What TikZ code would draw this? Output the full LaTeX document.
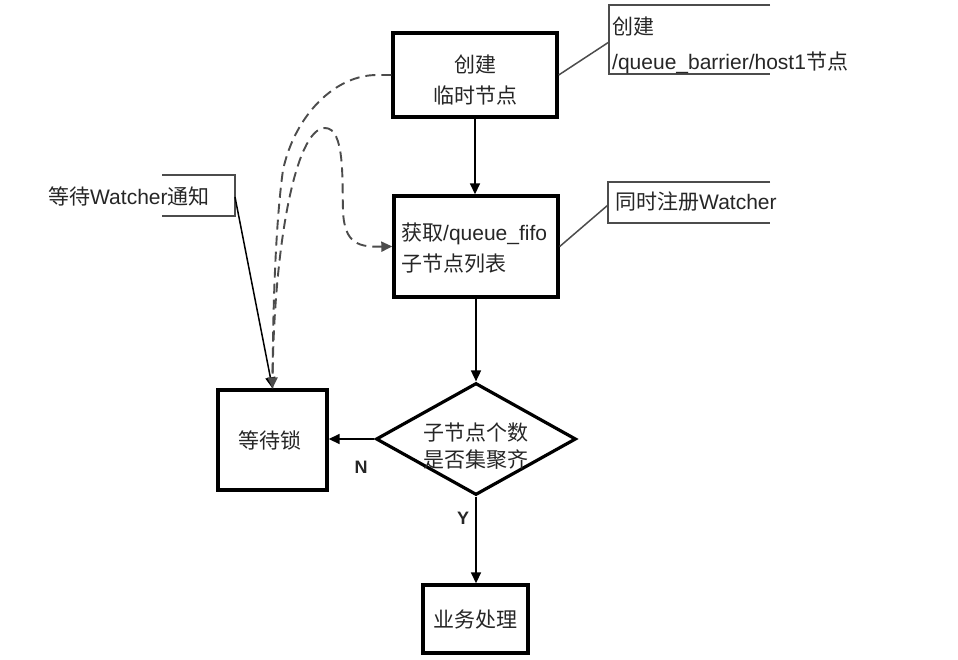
\documentclass[tikz,border=0pt]{standalone}
\usepackage{fontspec}
\setmainfont{Liberation Sans}
\newfontfamily\cjk{Noto Sans CJK SC}
\usetikzlibrary{shapes.geometric,arrows.meta}
\begin{document}
\begin{tikzpicture}[x=1pt,y=-1pt,
  box/.style={draw=black,line width=3.4pt,inner sep=0pt},
  txt/.style={inner sep=0pt,font=\fontsize{21}{31}\selectfont,text=black!85},
  tip/.style={-{Triangle[length=11pt,width=10pt]}},
  arr/.style={line width=1.7pt,tip},
  dashline/.style={draw=black!70,line width=1.9pt,dash pattern=on 10pt off 6pt},
  callout/.style={draw=black!70,line width=1.5pt},
  yn/.style={inner sep=0pt,font=\fontsize{18}{20}\selectfont\bfseries,text=black!85}]
\useasboundingbox[fill=white] (0,0) rectangle (958,660);

% boxes
\node[box,minimum width=164,minimum height=84] (b1) at (475,75) {};
\node[txt,align=center] (t1) at (475,80) {\cjk 创建\\\cjk 临时节点};

\node[box,minimum width=164,minimum height=101] (b2) at (476,246.5) {};
\node[txt,align=left,anchor=west] (t2) at (401,248) {{\cjk 获取}/queue\_fifo\\\cjk 子节点列表};

\node[draw=black,line width=3.2pt,diamond,minimum width=200,minimum height=112,inner sep=0pt] (d) at (476,439) {};
\node[txt,align=center,font=\fontsize{21}{27}\selectfont] (td) at (476,446) {\cjk 子节点个数\\\cjk 是否集聚齐};

\node[box,minimum width=109,minimum height=100] (b3) at (272.5,440) {};
\node[txt] (t3) at (270,440) {\cjk 等待锁};

\node[box,minimum width=105,minimum height=68] (b4) at (475.5,619) {};
\node[txt] (t4) at (475.5,620) {\cjk 业务处理};

% main arrows
\draw[arr] (b1.south) -- (b1.south |- b2.north);
\draw[arr] (b2.south) -- (b2.south |- d.north);
\draw[arr] (d.west) -- (b3.east |- d.west);
\draw[arr] (d.south) -- (d.south |- b4.north);
\node[yn] (lN) at (361,467) {N};
\node[yn] (lY) at (463,518) {Y};

% callout 1
\coordinate (c1) at (609,42);
\draw[callout] (770,5) -- (609,5) -- (609,74) -- (770,74);
\draw[callout] (b1.east) -- (c1);
\node[txt,align=left,anchor=west,font=\fontsize{21}{35}\selectfont] (tc1) at (612,45) {\cjk 创建\\/queue\_barrier/host1{\cjk 节点}};

% callout 2
\coordinate (c2) at (608,205);
\draw[callout] (770,182) -- (608,182) -- (608,223) -- (770,223);
\draw[callout] (b2.east) -- (c2);
\node[txt,anchor=west] (tc2) at (615,202) {{\cjk 同时注册}Watcher};

% callout 3
\coordinate (c3) at (235,197);
\draw[callout] (162,175) -- (235,175) -- (235,216) -- (162,216);
\node[txt,anchor=west] (tc3) at (48,196) {{\cjk 等待}Watcher{\cjk 通知}};
\draw[callout,tip,draw=black] (c3) -- (b3.north);

% dashed curves
\draw[dashline,tip] (b1.west) -- (377,75)
  .. controls (335,75) and (295,115) .. (283,170)
  .. controls (276,220) and (273,300) .. (b3.north);
\draw[dashline,tip] (b3.north)
  .. controls (273,250) and (295,128) .. (325,128)
  .. controls (345,128) and (342,180) .. (343,210)
  .. controls (344,245) and (360,247) .. (b2.west);
\end{tikzpicture}
\end{document}
